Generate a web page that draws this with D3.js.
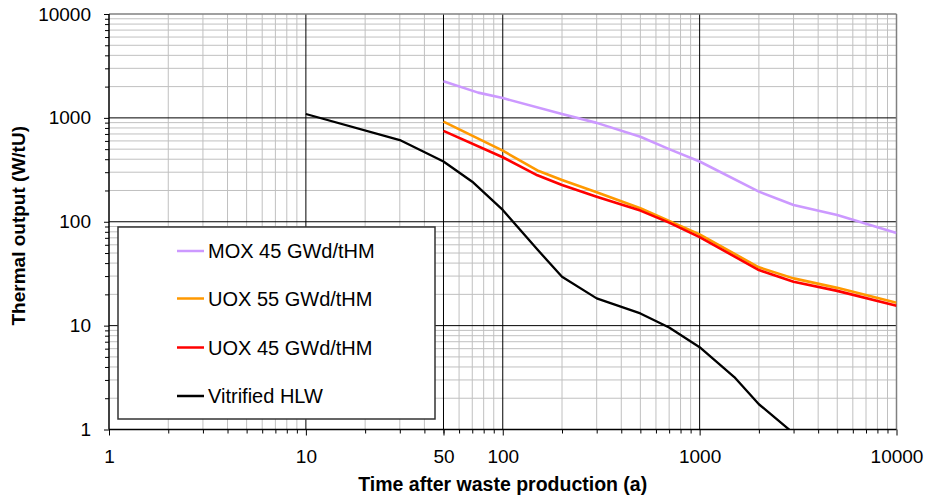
<!DOCTYPE html>
<html>
<head>
<meta charset="utf-8">
<script src="https://cdn.jsdelivr.net/npm/d3@7"></script>
<style>
  html, body { margin: 0; padding: 0; background: #fff; }
  svg { display: block; font-family: "Liberation Sans", Arial, sans-serif; }
</style>
</head>
<body>
<svg id="chart" width="929" height="500"></svg>
<script>
// ---- Data ----
const mox45Years   = [50, 75, 100, 200, 300, 500, 700, 1000, 2000, 3000, 5000, 10000];
const mox45Values  = [2250, 1750, 1550, 1090, 895, 659, 500, 380, 195, 145, 116, 78];

const uox55Years   = [50, 100, 150, 200, 300, 500, 700, 1000, 2000, 3000, 5000, 10000];
const uox55Values  = [920, 483, 312, 252, 192, 135, 102, 75.5, 36.4, 28.5, 23.1, 16.6];

const uox45Years   = [50, 100, 150, 200, 300, 500, 700, 1000, 2000, 3000, 5000, 10000];
const uox45Values  = [750, 418, 280, 226, 174, 128, 98, 71, 34.3, 26.4, 21.6, 15.5];

const hlwYears     = [10, 30, 50, 70, 100, 150, 200, 300, 500, 700, 1000, 1500, 2000, 3000];
const hlwValues    = [1090, 612, 380, 243, 130, 54, 29.5, 18.3, 13.1, 9.6, 6.2, 3.2, 1.75, 0.92];

const seriesNames  = ["MOX 45 GWd/tHM", "UOX 55 GWd/tHM", "UOX 45 GWd/tHM", "Vitrified HLW"];
const seriesColors = ["#CC99FF", "#FF9900", "#FF0000", "#000000"];

const xTickLabels  = [1, 10, 50, 100, 1000, 10000];
const yTickLabels  = [1, 10, 100, 1000, 10000];
const xTitle = "Time after waste production (a)";
const yTitle = "Thermal output (W/tU)";

// ---- Layout ----
const svg = d3.select("#chart");
const L = 109, R = 896.5, T = 14, B = 429.5;

const x = d3.scaleLog().domain([1, 10000]).range([L, R]);
const y = d3.scaleLog().domain([1, 10000]).range([B, T]);

// minor values 2..9 per decade
const minorVals = [];
for (let k = 0; k < 4; k++) for (let m = 2; m <= 9; m++) minorVals.push(m * Math.pow(10, k));
const xMajorGrid = [10, 50, 100, 1000];
const yMajorGrid = [10, 100, 1000];

const g = svg.append("g");

// minor grid
g.append("g").selectAll("line").data(minorVals).join("line")
  .attr("x1", d => x(d)).attr("x2", d => x(d)).attr("y1", T).attr("y2", B)
  .attr("stroke", "#c0c0c0").attr("stroke-width", 1);
g.append("g").selectAll("line").data(minorVals).join("line")
  .attr("y1", d => y(d)).attr("y2", d => y(d)).attr("x1", L).attr("x2", R)
  .attr("stroke", "#c0c0c0").attr("stroke-width", 1);

// major grid
g.append("g").selectAll("line").data(xMajorGrid).join("line")
  .attr("x1", d => x(d)).attr("x2", d => x(d)).attr("y1", T).attr("y2", B)
  .attr("stroke", "#000").attr("stroke-width", 1);
g.append("g").selectAll("line").data(yMajorGrid).join("line")
  .attr("y1", d => y(d)).attr("y2", d => y(d)).attr("x1", L).attr("x2", R)
  .attr("stroke", "#000").attr("stroke-width", 1);

// top / right border (grey)
g.append("line").attr("x1", L).attr("x2", R).attr("y1", T).attr("y2", T)
  .attr("stroke", "#808080").attr("stroke-width", 1.5);
g.append("line").attr("x1", R).attr("x2", R).attr("y1", T).attr("y2", B)
  .attr("stroke", "#808080").attr("stroke-width", 1.5);

// axes
const yAxisMajor = d3.axisLeft(y).tickValues(yTickLabels).tickSize(5).tickFormat(d3.format("d")).tickPadding(13);
const yAxisMinor = d3.axisLeft(y).tickValues(minorVals).tickSize(4).tickFormat("");
const xAxisMajor = d3.axisBottom(x).tickValues(xTickLabels).tickSize(6).tickFormat(d3.format("d")).tickPadding(14);
const xAxisMinor = d3.axisBottom(x).tickValues(minorVals).tickSize(4).tickFormat("");

function styleAxis(sel) {
  sel.select(".domain").attr("stroke", "#000").attr("stroke-width", 1.5);
  sel.selectAll(".tick line").attr("stroke", "#000");
  sel.selectAll(".tick text").attr("fill", "#000").attr("font-size", "19px")
     .attr("font-family", "'Liberation Sans', Arial, sans-serif");
}
const gy1 = svg.append("g").attr("transform", `translate(${L},0)`).call(yAxisMinor); styleAxis(gy1);
const gy2 = svg.append("g").attr("transform", `translate(${L},0)`).call(yAxisMajor); styleAxis(gy2);
const gx1 = svg.append("g").attr("transform", `translate(0,${B})`).call(xAxisMinor); styleAxis(gx1);
const gx2 = svg.append("g").attr("transform", `translate(0,${B})`).call(xAxisMajor); styleAxis(gx2);
gy1.select(".domain").remove(); gx1.select(".domain").remove();
gy2.select(".domain").attr("d", `M0,${B}V${T}`);
gx2.select(".domain").attr("d", `M${L},0H${R}`);

// axis titles
svg.append("text").attr("x", (L + R) / 2).attr("y", 491)
  .attr("text-anchor", "middle").attr("font-weight", "bold").attr("font-size", "19.5px")
  .text(xTitle);
svg.append("text").attr("transform", `translate(25,${(T + B) / 2 + 4}) rotate(-90)`)
  .attr("text-anchor", "middle").attr("font-weight", "bold").attr("font-size", "19px")
  .text(yTitle);

// legend (drawn over grid)
const legX = 118, legY = 227, legW = 317, legH = 192;
svg.append("rect").attr("x", legX).attr("y", legY).attr("width", legW).attr("height", legH)
  .attr("fill", "#fff").attr("stroke", "#333").attr("stroke-width", 1.5);
const legRowY = [251, 298.5, 347.5, 396];
seriesNames.forEach((name, i) => {
  svg.append("line").attr("x1", 177).attr("x2", 204).attr("y1", legRowY[i]).attr("y2", legRowY[i])
    .attr("stroke", seriesColors[i]).attr("stroke-width", 2.5);
  svg.append("text").attr("x", 208).attr("y", legRowY[i] + 7).attr("font-size", "20px")
    .attr("fill", "#000").text(name);
});

// series lines
svg.append("clipPath").attr("id", "plotclip").append("rect")
  .attr("x", L).attr("y", T).attr("width", R - L).attr("height", B - T);
const line = d3.line().x(d => x(d[0])).y(d => y(d[1]));
const series = [
  d3.zip(mox45Years, mox45Values),
  d3.zip(uox55Years, uox55Values),
  d3.zip(uox45Years, uox45Values),
  d3.zip(hlwYears, hlwValues)
];
const lg = svg.append("g").attr("clip-path", "url(#plotclip)");
series.forEach((s, i) => {
  lg.append("path").datum(s).attr("d", line).attr("fill", "none")
    .attr("stroke", seriesColors[i]).attr("stroke-width", i === 3 ? 2.3 : 2.6)
    .attr("stroke-linejoin", "round");
});
</script>
</body>
</html>
